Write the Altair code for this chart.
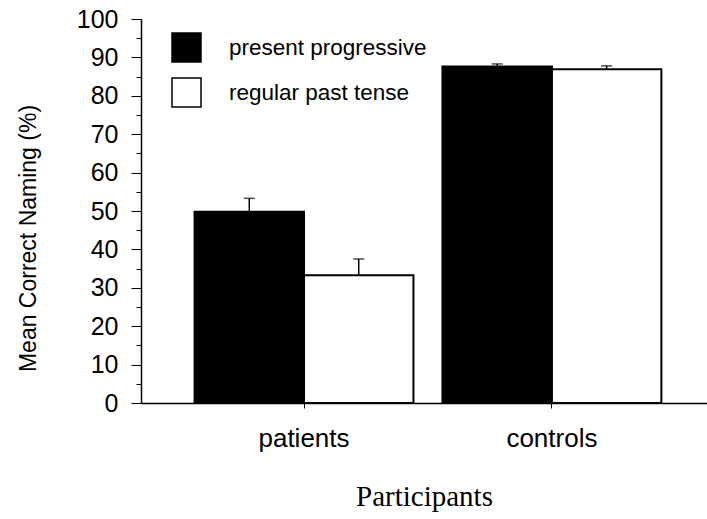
import altair as alt
import pandas as pd

# Mean correct naming (%) by participant group and verb form
groups = ["patients", "patients", "controls", "controls"]
conditions = ["present progressive", "regular past tense",
              "present progressive", "regular past tense"]
means = [49.8, 33.3, 87.6, 86.9]
errors = [3.5, 4.2, 0.7, 0.9]

group_order = ["patients", "controls"]
condition_order = ["present progressive", "regular past tense"]

df = pd.DataFrame({
    "group": groups,
    "condition": conditions,
    "mean": means,
    "upper": [m + e for m, e in zip(means, errors)],
})

sans = "Liberation Sans"

x_axis = alt.Axis(
    title="Participants",
    titleFont="Liberation Serif",
    titleFontSize=29,
    titleFontWeight="normal",
    titleColor="black",
    titleBaseline="alphabetic",
    titleY=102,
    labelFont=sans,
    labelFontSize=26,
    labelColor="black",
    labelAngle=0,
    labelBaseline="top",
    labelPadding=17,
    tickSize=5,
    tickColor="black",
    domainColor="black",
    domainWidth=1.5,
)
x_scale = alt.Scale(paddingInner=0.117, paddingOuter=0.2, align=0.54)
x_enc = alt.X("group:N", sort=group_order, scale=x_scale, axis=x_axis)

offset_enc = alt.XOffset(
    "condition:N", sort=condition_order,
    scale=alt.Scale(paddingInner=0, paddingOuter=0),
)

y_scale = alt.Scale(domain=[0, 100], nice=False)
y_axis = alt.Axis(
    title="Mean Correct Naming (%)",
    titleFont=sans,
    titleFontSize=23,
    titleFontWeight="normal",
    titleColor="black",
    titleAngle=-90,
    titleAlign="center",
    titleBaseline="middle",
    titleX=-113,
    titleY=219,
    values=list(range(0, 101, 5)),
    labelExpr="datum.value % 10 === 0 ? datum.label : ''",
    labelFont=sans,
    labelFontSize=25,
    labelColor="black",
    labelPadding=13,
    tickSize={"condition": {"test": "datum.value % 10 === 0", "value": 10},
              "value": 5},
    tickColor="black",
    domainColor="black",
    domainWidth=1.5,
    grid=False,
)

bars = alt.Chart(df).mark_bar(stroke="black", strokeWidth=2).encode(
    x=x_enc,
    xOffset=offset_enc,
    y=alt.Y("mean:Q", scale=y_scale, axis=y_axis),
    color=alt.Color(
        "condition:N",
        sort=condition_order,
        scale=alt.Scale(domain=condition_order, range=["black", "white"]),
        legend=alt.Legend(
            orient="none",
            legendX=30,
            legendY=13,
            title=None,
            padding=0,
            symbolType="square",
            symbolSize=841,
            symbolStrokeColor="black",
            symbolStrokeWidth=1.5,
            labelFont=sans,
            labelFontSize=22.5,
            labelColor="black",
            labelOffset=27,
            labelLimit=0,
            rowPadding=10,
        ),
    ),
)

stems = alt.Chart(df).mark_rule(color="black", strokeWidth=1.5).encode(
    x=x_enc,
    xOffset=offset_enc,
    y=alt.Y("mean:Q", scale=y_scale, axis=y_axis),
    y2="upper:Q",
)

caps = alt.Chart(df).mark_tick(color="black", size=11, thickness=1.5).encode(
    x=x_enc,
    xOffset=offset_enc,
    y=alt.Y("upper:Q", scale=y_scale, axis=y_axis),
)

chart = alt.layer(bars, stems, caps).properties(
    width=566,
    height=384,
    autosize=alt.AutoSizeParams(type="none"),
    padding={"left": 141, "top": 19, "right": 0, "bottom": 116},
    background="white",
).configure_view(stroke=None)

chart.save("out.html", embed_options={"renderer": "svg", "actions": False})
